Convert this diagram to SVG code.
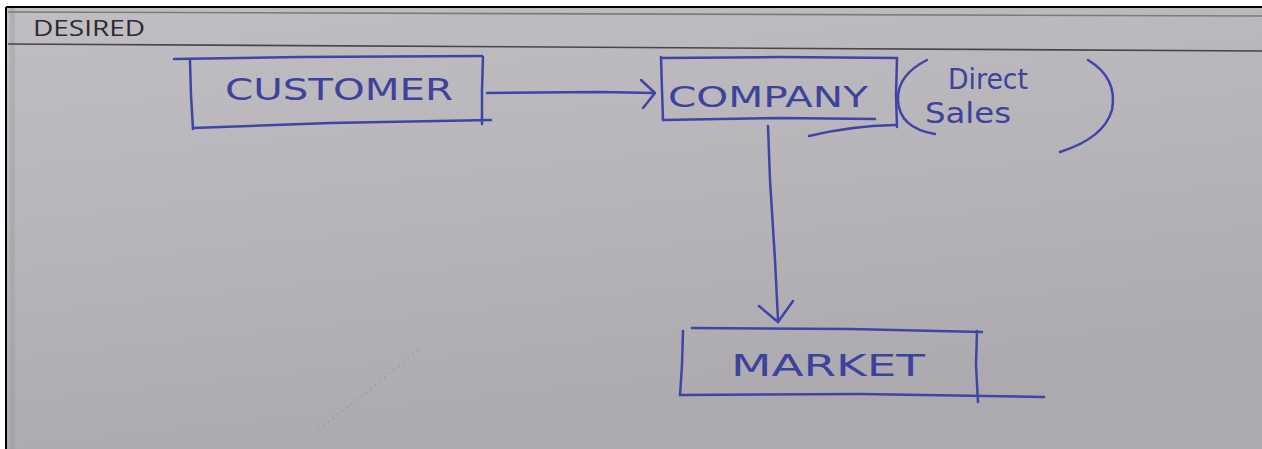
<svg xmlns="http://www.w3.org/2000/svg" width="1262" height="449" viewBox="0 0 1262 449">
  <defs>
    <linearGradient id="paper" x1="0" y1="0" x2="0.3" y2="1">
      <stop offset="0" stop-color="#c0bec3"/>
      <stop offset="0.5" stop-color="#b7b5ba"/>
      <stop offset="1" stop-color="#acaaaf"/>
    </linearGradient>
    <style>
      .ink { fill: none; stroke: #3f44a6; stroke-width: 2.5; stroke-linecap: round; stroke-linejoin: round; }
      .hand { fill: #3e429c; font-family: "DejaVu Sans", "Liberation Sans", sans-serif; font-weight: normal; }
      .rule { fill: none; stroke-width: 1.6; }
    </style>
  </defs>

  <!-- sheet -->
  <rect x="0" y="0" width="1262" height="449" fill="#ffffff"/>
  <rect x="6" y="7" width="1256" height="442" fill="url(#paper)"/>
  <rect x="10" y="7" width="5" height="442" fill="#8f8d92" opacity="0.3"/>
  <path d="M6 7 V449 M6 7 H1262" stroke="#000" stroke-width="2" fill="none"/>

  <!-- header band -->
  <path class="rule" d="M8 12 L1262 16" stroke="#7c7a7f"/>
  <path class="rule" d="M8 44 L1262 51" stroke="#48464b"/>
  <text x="33" y="36" font-family="Open Sans, DejaVu Sans, sans-serif" font-size="22" fill="#2c2b2f" textLength="112" lengthAdjust="spacingAndGlyphs">DESIRED</text>

  <!-- faint crease -->
  <path d="M418 350 Q370 390 318 430" stroke="#8f8d92" stroke-width="1.2" stroke-dasharray="2 4" fill="none" opacity="0.6"/>

  <g id="customer">
    <path class="ink" d="M174 59 L300 57 L482 56"/>
    <path class="ink" d="M190 61 L191 95 L193 129"/>
    <path class="ink" d="M193 128 L330 123 L491 120"/>
    <path class="ink" d="M483 57 L482 90 L482 124"/>
    <text class="hand" x="225" y="100" font-size="30" textLength="228" lengthAdjust="spacingAndGlyphs">CUSTOMER</text>
  </g>

  <g id="company">
    <path class="ink" d="M661 58 L780 57 L897 58"/>
    <path class="ink" d="M661 57 L662 90 L663 120"/>
    <path class="ink" d="M663 120 L780 118 L875 119"/>
    <path class="ink" d="M897 58 L896 95 L897 127"/>
    <text class="hand" x="668" y="107" font-size="29" textLength="200" lengthAdjust="spacingAndGlyphs">COMPANY</text>
  </g>

  <g id="direct-sales">
    <path class="ink" d="M809 136 Q850 126 895 125"/>
    <path class="ink" d="M927 60 Q897 75 898 100 Q899 128 935 134"/>
    <text class="hand" x="948" y="89" font-size="28" textLength="80" lengthAdjust="spacingAndGlyphs">Direct</text>
    <text class="hand" x="925" y="123" font-size="28" textLength="86" lengthAdjust="spacingAndGlyphs">Sales</text>
    <path class="ink" d="M1088 60 Q1118 78 1112 110 Q1104 138 1060 152"/>
  </g>

  <g id="market">
    <path class="ink" d="M692 328 L850 329 L982 332"/>
    <path class="ink" d="M683 331 L682 365 L680 395"/>
    <path class="ink" d="M680 395 L860 394 L1044 397"/>
    <path class="ink" d="M977 331 L976 365 L978 402"/>
    <text class="hand" x="731" y="376" font-size="31" textLength="194" lengthAdjust="spacingAndGlyphs">MARKET</text>
  </g>

  <g id="connectors">
    <path class="ink" d="M487 93 L600 92 L654 93"/>
    <path class="ink" d="M641 80 L655 93 L643 108"/>
    <path class="ink" d="M768 126 L770 180 L775 260 L778 320"/>
    <path class="ink" d="M759 306 L778 322 L793 301"/>
  </g>
</svg>
